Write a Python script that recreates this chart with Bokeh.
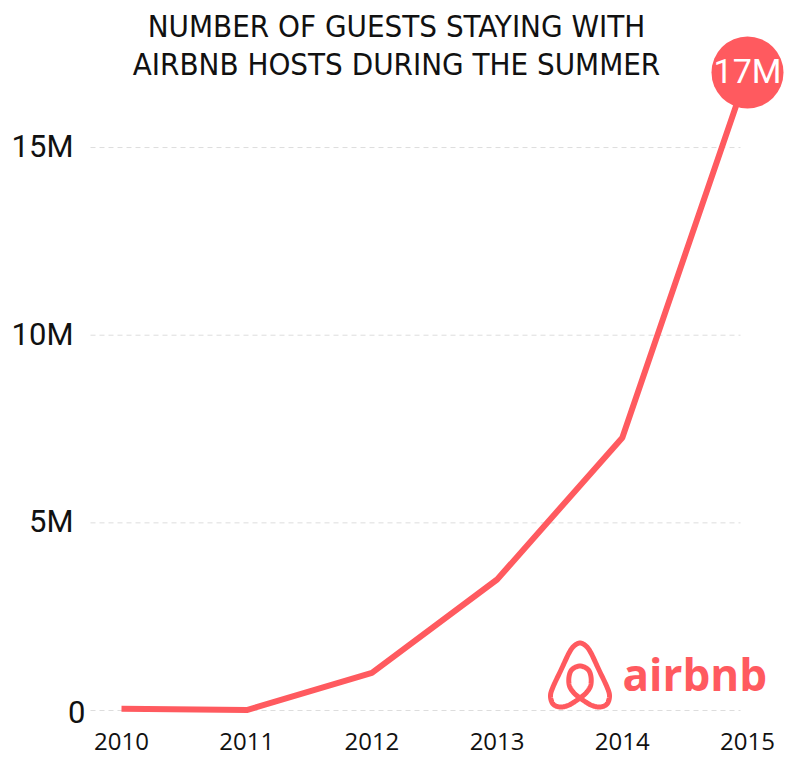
import numpy as np
from bokeh.plotting import figure
from bokeh.models import Range1d, FixedTicker
from bokeh.core.properties import value
from bokeh.embed import file_html
from bokeh.resources import INLINE

# ---------------- data ----------------
years = [2010, 2011, 2012, 2013, 2014, 2015]
guests_m = [0.047, 0.01, 1.0, 3.49, 7.27, 17.0]   # millions of guests
y_ticks = [0, 5, 10, 15]
y_tick_labels = ["0", "5M", "10M", "15M"]
x_tick_labels = ["2010", "2011", "2012", "2013", "2014", "2015"]
title_lines = ["NUMBER OF GUESTS STAYING WITH", "AIRBNB HOSTS DURING THE SUMMER"]
peak_label = "17M"
brand_text = "airbnb"

# ---------------- layout / style ----------------
CORAL = "#FF5A5F"
W, FH, BOTTOM = 787, 740, 18
X0_PX, PX_PER_YEAR = 121.0, 125.2
Y0_PX, PX_PER_M = 710.0, 37.53
TXT_SHIFT = 12  # px correction: text box bottom vs. glyph baseline
x_start = 2010 - X0_PX / PX_PER_YEAR
x_end = x_start + W / PX_PER_YEAR
y_end = Y0_PX / PX_PER_M
y_start = y_end - FH / PX_PER_M


def px_x(px):
    return x_start + px / PX_PER_YEAR


def px_y(py):
    return y_end - py / PX_PER_M


p = figure(frame_width=W, frame_height=FH, output_backend="svg", toolbar_location=None,
           x_range=Range1d(x_start, x_end), y_range=Range1d(y_start, y_end),
           min_border_left=0, min_border_right=0, min_border_top=0, min_border_bottom=BOTTOM,
           background_fill_color="white", border_fill_color="white")
p.outline_line_color = None
p.grid.visible = False
p.yaxis.visible = False

xa = p.xaxis[0]
xa.ticker = FixedTicker(ticks=years)
xa.major_label_overrides = {y: l for y, l in zip(years, x_tick_labels)}
xa.axis_line_color = None
xa.major_tick_line_color = None
xa.minor_tick_line_color = None
xa.major_tick_out = 0
xa.major_tick_in = 0
xa.major_label_standoff = -8
xa.major_label_text_font = "Open Sans"
xa.major_label_text_font_size = "24px"
xa.major_label_text_color = "#111111"

# dashed horizontal grid lines
p.segment(x0=[px_x(90)] * len(y_ticks), x1=[px_x(740)] * len(y_ticks), y0=y_ticks, y1=y_ticks,
          line_color="#dddddd", line_width=1, line_dash="5 4")

# y tick labels
lab_x = [px_x(85) if l == "0" else px_x(73) for l in y_tick_labels]
lab_y = [t - ((13 if l == "0" else 11) - TXT_SHIFT) / PX_PER_M
         for t, l in zip(y_ticks, y_tick_labels)]
p.text(x=lab_x, y=lab_y, text=y_tick_labels, text_align="right", text_baseline="alphabetic",
       text_font=value("Roboto"), text_font_size="31px", text_color="#111111")

# main line
p.line(years, guests_m, line_color=CORAL, line_width=6)

# peak bubble
p.scatter(x=[years[-1]], y=[guests_m[-1]], size=72, marker="circle",
          fill_color=CORAL, line_color=None)
p.text(x=[years[-1]], y=[guests_m[-1] - (11 - TXT_SHIFT) / PX_PER_M], text=[peak_label],
       text_align="center", text_baseline="alphabetic", text_font=value("Roboto"),
       text_font_size="34px", text_color="white")

# title
p.text(x=[px_x(396)] * 2, y=[px_y(37 - TXT_SHIFT), px_y(75 - TXT_SHIFT)], text=title_lines,
       text_align="center", text_baseline="alphabetic",
       text_font=value("'DejaVu Sans Condensed', 'Liberation Sans Narrow', sans-serif"),
       text_font_size="31px", text_color="#111111")

# airbnb logo (Belo symbol) built as a closed Catmull-Rom curve in pixel space
belo_pts = np.array([
    (0, 67), (-6, 64), (-11, 57), (-19, 40), (-27, 23), (-29.5, 14), (-27, 6), (-20, 3),
    (-12, 4.5), (-5, 8.5), (0, 12), (6, 17), (10.5, 24), (11, 33), (8, 40.5), (0, 44),
    (-8, 40.5), (-11, 33), (-10.5, 24), (-6, 17), (0, 12), (5, 8.5), (12, 4.5), (20, 3),
    (27, 6), (29.5, 14), (27, 23), (19, 40), (11, 57), (6, 64),
], dtype=float)


def catmull_closed(P, n=14):
    out = []
    m = len(P)
    for i in range(m):
        p0, p1, p2, p3 = P[(i - 1) % m], P[i], P[(i + 1) % m], P[(i + 2) % m]
        for t in np.linspace(0, 1, n, endpoint=False):
            t2, t3 = t * t, t * t * t
            out.append(0.5 * ((2 * p1) + (-p0 + p2) * t + (2 * p0 - 5 * p1 + 4 * p2 - p3) * t2
                              + (-p0 + 3 * p1 - 3 * p2 + p3) * t3))
    out.append(out[0])
    return np.array(out)


curve = catmull_closed(belo_pts)
bx = [px_x(579.5 + c[0]) for c in curve]
by = [px_y(709.5 - c[1]) for c in curve]
p.line(bx, by, line_color=CORAL, line_width=5, line_join="round", line_cap="round")

p.text(x=[px_x(622)], y=[px_y(687 - 14)], text=[brand_text], text_align="left",
       text_baseline="alphabetic", text_font=value("Open Sans"), text_font_size="44px",
       text_font_style="bold", text_color=CORAL)

open("out.html", "w").write(file_html(p, INLINE))
